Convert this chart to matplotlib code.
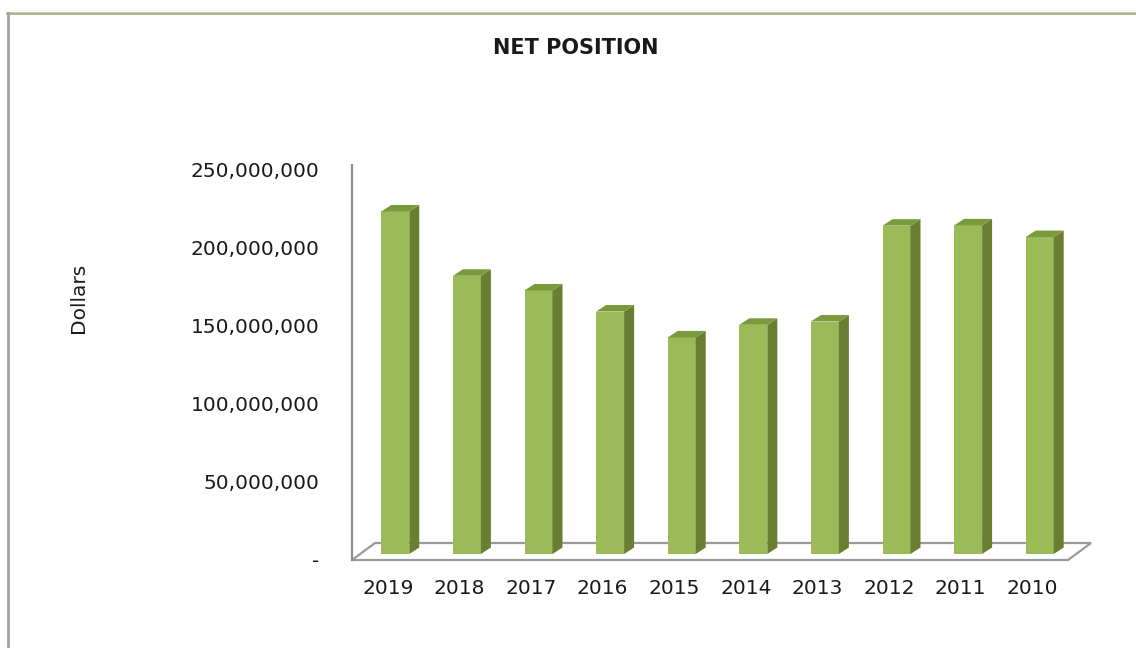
import matplotlib
matplotlib.use("Agg")
import matplotlib.pyplot as plt
from matplotlib.patches import Polygon
from matplotlib.lines import Line2D
from matplotlib.ticker import FuncFormatter

years = ["2019", "2018", "2017", "2016", "2015", "2014", "2013", "2012", "2011", "2010"]
net_position = [219.4e6, 178.2e6, 168.8e6, 155.3e6, 138.7e6, 146.8e6, 148.9e6, 210.3e6, 210.5e6, 203.0e6]
y_ticks = [0, 50e6, 100e6, 150e6, 200e6, 250e6]

W, H = 1136, 648
fig = plt.figure(figsize=(W / 100, H / 100), dpi=100)
fig.patch.set_facecolor("white")

# axes geometry (pixels)
ax_l, ax_r, ax_b, ax_t = 352, 1068, 560, 165
ax = fig.add_axes([ax_l / W, 1 - ax_b / H, (ax_r - ax_l) / W, (ax_b - ax_t) / H])
ax.set_xlim(-0.5, len(years) - 0.5)
ax.set_ylim(0, 253e6)
ax.set_facecolor("none")
for s in ax.spines.values():
    s.set_visible(False)

px_x = (ax_r - ax_l) / len(years)          # pixels per x unit
px_y = (ax_b - ax_t) / 253e6               # pixels per dollar

def dxp(p):
    return p / px_x

def dyp(p):
    return p / px_y

# floor
fdx, fdy = dxp(23), dyp(17)
x0, x1 = -0.5, len(years) - 0.5
floor = Polygon([(x0, 0), (x1, 0), (x1 + fdx, fdy), (x0 + fdx, fdy)], closed=True,
                facecolor="white", edgecolor="#9a9a9a", lw=1.6, zorder=1, clip_on=False)
ax.add_patch(floor)
# vertical axis line
ax.add_line(Line2D([x0, x0], [0, 253e6], color="#8c8c8c", lw=1.6, zorder=2, clip_on=False))

# bars (pseudo-3D)
shift = dxp(7.5)
base = dyp(6)
bw = dxp(28)
ddx, ddy = dxp(10), dyp(6.5)
front_c, side_c, top_c = "#9BBB59", "#687F33", "#7A9A3D"
xs = [i + shift for i in range(len(years))]
ax.bar(xs, net_position, width=bw, bottom=base, color=front_c, edgecolor="none", zorder=3)
for x, v in zip(xs, net_position):
    xl, xr = x - bw / 2, x + bw / 2
    top = base + v
    ax.add_patch(Polygon([(xr, base), (xr + ddx, base + ddy), (xr + ddx, top + ddy), (xr, top)],
                         closed=True, facecolor=side_c, edgecolor="none", zorder=3))
    ax.add_patch(Polygon([(xl, top), (xr, top), (xr + ddx, top + ddy), (xl + ddx, top + ddy)],
                         closed=True, facecolor=top_c, edgecolor="none", zorder=3))

# ticks
ax.set_xticks(range(len(years)))
ax.set_xticklabels(years)
ax.set_yticks(y_ticks)
ax.yaxis.set_major_formatter(FuncFormatter(lambda v, p: "-" if v == 0 else f"{v:,.0f}"))
ax.tick_params(axis="both", length=0, labelsize=14.5, colors="#1a1a1a")
ax.tick_params(axis="y", pad=23.5)
ax.tick_params(axis="x", pad=14)

# texts
fig.text(576 / W, 1 - 48 / H, "NET POSITION", ha="center", va="center",
         fontsize=15, fontweight="bold", color="#1a1a1a")
fig.text(79 / W, 1 - 298 / H, "Dollars", ha="center", va="center", rotation=90,
         fontsize=14.5, color="#1a1a1a")

# outer border (top and left)
fig.add_artist(Line2D([7 / W, 1], [1 - 12.5 / H, 1 - 12.5 / H], transform=fig.transFigure,
                      color="#c8c67a", lw=1.2))
fig.add_artist(Line2D([7 / W, 1], [1 - 14 / H, 1 - 14 / H], transform=fig.transFigure,
                      color="#a8a6a0", lw=1.2))
fig.add_artist(Line2D([7.5 / W, 7.5 / W], [0, 1 - 12.5 / H], transform=fig.transFigure,
                      color="#a0a09a", lw=2))

fig.savefig("out.png", dpi=100, facecolor="white")
